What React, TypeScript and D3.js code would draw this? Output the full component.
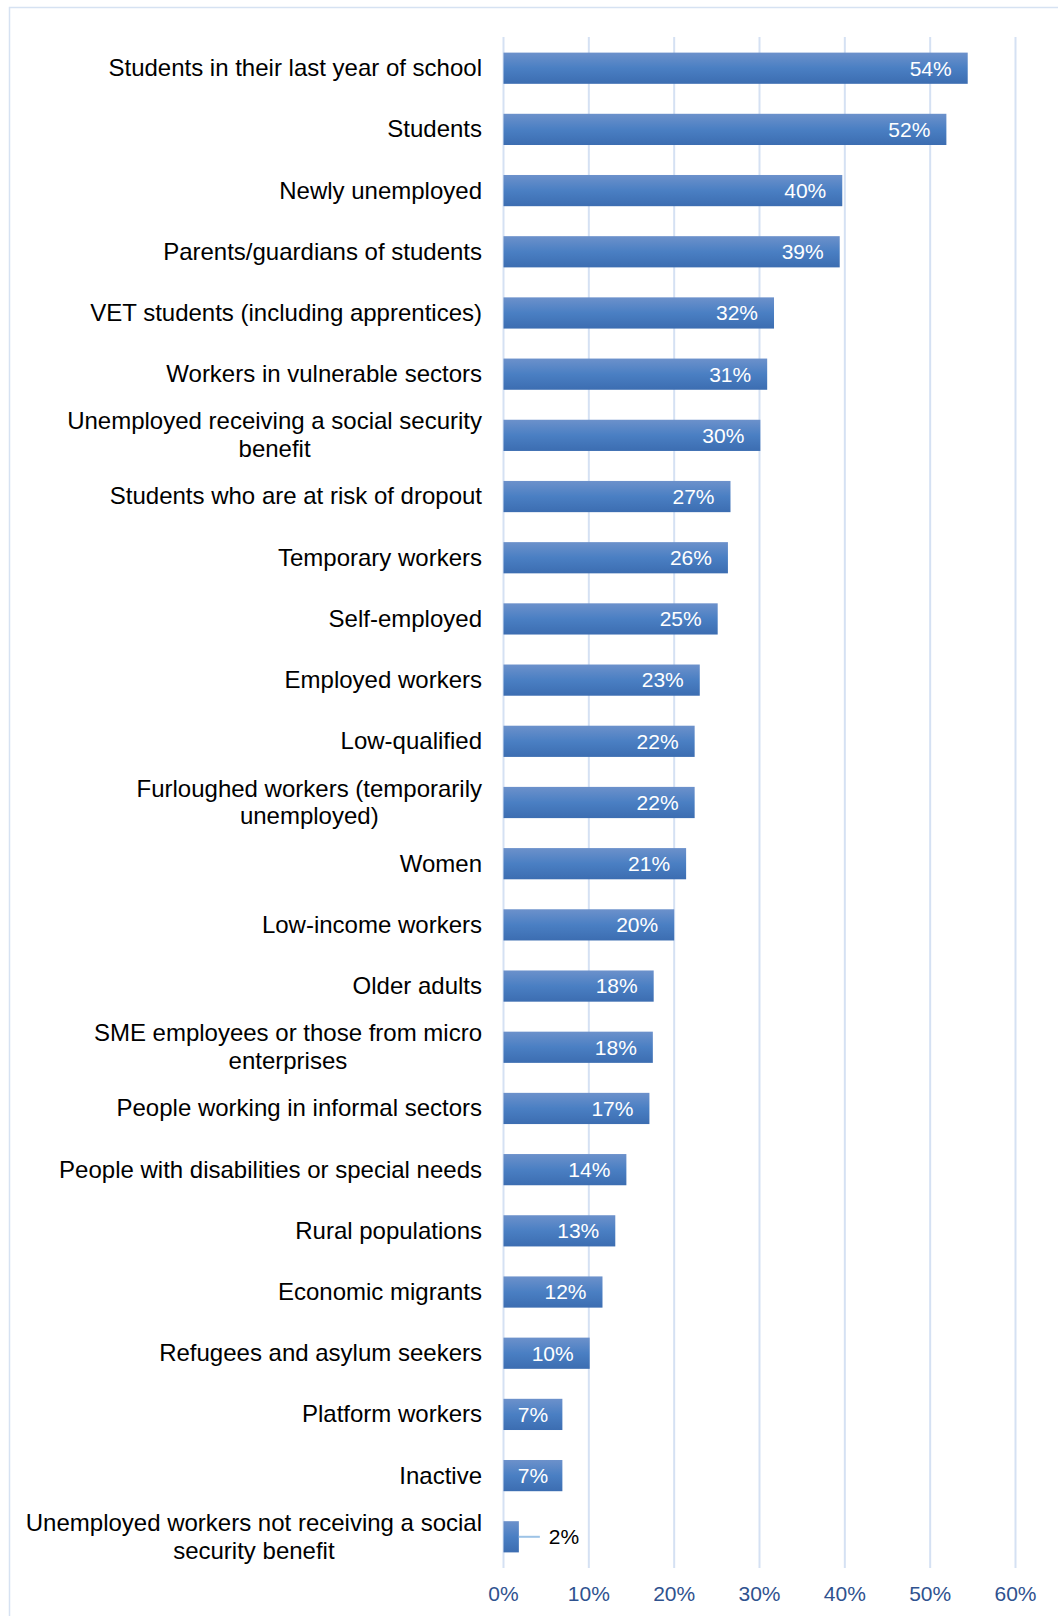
import React, { useEffect, useRef } from 'react';
import * as d3 from 'd3';

// categories, top to bottom ("\n" marks where the label wraps)
const categories = [
  'Students in their last year of school',
  'Students',
  'Newly unemployed',
  'Parents/guardians of students',
  'VET students (including apprentices)',
  'Workers in vulnerable sectors',
  'Unemployed receiving a social security\nbenefit',
  'Students who are at risk of dropout',
  'Temporary workers',
  'Self-employed',
  'Employed workers',
  'Low-qualified',
  'Furloughed workers (temporarily\nunemployed)',
  'Women',
  'Low-income workers',
  'Older adults',
  'SME employees or those from micro\nenterprises',
  'People working in informal sectors',
  'People with disabilities or special needs',
  'Rural populations',
  'Economic migrants',
  'Refugees and asylum seekers',
  'Platform workers',
  'Inactive',
  'Unemployed workers not receiving a social\nsecurity benefit',
];

// share of respondents, in percent
const values = [
  54.4, 51.9, 39.7, 39.4, 31.7, 30.9, 30.1, 26.6, 26.3, 25.1, 23.0, 22.4, 22.4,
  21.4, 20.0, 17.6, 17.5, 17.1, 14.4, 13.1, 11.6, 10.1, 6.9, 6.9, 1.8,
];

const xTicks = [0, 10, 20, 30, 40, 50, 60];

const FONT = '"Liberation Sans", Arial, sans-serif';

const App = () => {
  const ref = useRef<SVGSVGElement>(null);

  useEffect(() => {
    document.body.style.margin = '0';
    const svg = d3.select(ref.current);
    svg.selectAll('*').remove();

    const plotTop = 37,
      plotBottom = 1568,
      labelRight = 482;

    const x = d3.scaleLinear().domain([0, 60]).range([503.5, 1015.5]);
    const y = d3
      .scaleBand<string>()
      .domain(categories)
      .range([plotTop, plotBottom])
      .paddingInner(0.49)
      .paddingOuter(0.255);

    const data = categories.map((c, i) => ({ cat: c, value: values[i] }));

    // bar gradient
    const grad = svg
      .append('defs')
      .append('linearGradient')
      .attr('id', 'barGrad')
      .attr('x1', 0)
      .attr('y1', 0)
      .attr('x2', 0)
      .attr('y2', 1);
    grad.append('stop').attr('offset', '0%').attr('stop-color', '#6c91cb');
    grad.append('stop').attr('offset', '50%').attr('stop-color', '#4a7fc3');
    grad.append('stop').attr('offset', '100%').attr('stop-color', '#3c6db1');

    // chart border
    svg
      .append('rect')
      .attr('x', 9.5)
      .attr('y', 7.5)
      .attr('width', 1200)
      .attr('height', 1800)
      .attr('fill', 'none')
      .attr('stroke', '#d6e2f2')
      .attr('stroke-width', 1.5);

    // gridlines
    svg
      .append('g')
      .selectAll('line')
      .data(xTicks)
      .enter()
      .append('line')
      .attr('x1', (d) => x(d))
      .attr('x2', (d) => x(d))
      .attr('y1', plotTop)
      .attr('y2', plotBottom)
      .attr('stroke', '#d5e1f3')
      .attr('stroke-width', 2);

    // x tick labels
    svg
      .append('g')
      .selectAll('text')
      .data(xTicks)
      .enter()
      .append('text')
      .attr('x', (d) => x(d))
      .attr('y', 1594)
      .attr('dy', '0.35em')
      .attr('text-anchor', 'middle')
      .attr('font-family', FONT)
      .attr('font-size', 21)
      .attr('fill', '#2f528f')
      .text((d) => d + '%');

    // bars
    svg
      .append('g')
      .selectAll('rect')
      .data(data)
      .enter()
      .append('rect')
      .attr('x', x(0))
      .attr('y', (d) => y(d.cat) ?? 0)
      .attr('width', (d) => x(d.value) - x(0))
      .attr('height', y.bandwidth())
      .attr('fill', 'url(#barGrad)');

    // value labels
    const vg = svg.append('g');
    data.forEach((d) => {
      const cy = (y(d.cat) ?? 0) + y.bandwidth() / 2;
      const barW = x(d.value) - x(0);
      const t = vg
        .append('text')
        .attr('y', cy)
        .attr('dy', '0.35em')
        .attr('font-family', FONT)
        .attr('font-size', 21)
        .text(Math.round(d.value) + '%');
      const tw = (t.node() as SVGTextElement).getComputedTextLength();
      if (barW < tw + 4) {
        // outside with a leader line
        vg.append('line')
          .attr('x1', x(d.value))
          .attr('x2', x(d.value) + 21)
          .attr('y1', cy)
          .attr('y2', cy)
          .attr('stroke', '#9dc3e6')
          .attr('stroke-width', 2);
        t.attr('x', x(d.value) + 30).attr('fill', '#000');
      } else if (barW < tw + 32) {
        t.attr('x', x(0) + barW / 2)
          .attr('text-anchor', 'middle')
          .attr('fill', '#fff');
      } else {
        t.attr('x', x(d.value) - 16)
          .attr('text-anchor', 'end')
          .attr('fill', '#fff');
      }
    });

    // category labels
    const lg = svg.append('g');
    const lineH = 27.8;
    data.forEach((d) => {
      const cy = (y(d.cat) ?? 0) + y.bandwidth() / 2;
      const lines = d.cat.split('\n');
      const t = lg
        .append('text')
        .attr('font-family', FONT)
        .attr('font-size', 24)
        .attr('fill', '#000');
      const spans = lines.map((ln, i) =>
        t
          .append('tspan')
          .attr('y', cy + (i - (lines.length - 1) / 2) * lineH)
          .attr('dy', '0.33em')
          .text(ln),
      );
      const widths = spans.map((s) =>
        (s.node() as SVGTSpanElement).getComputedTextLength(),
      );
      const maxW = d3.max(widths) ?? 0;
      spans.forEach((s) => s.attr('x', labelRight - maxW / 2));
      t.attr('text-anchor', 'middle');
    });
  }, []);

  return (
    <svg
      ref={ref}
      width={1058}
      height={1616}
      style={{ display: 'block', background: '#fff' }}
    />
  );
};

export default App;
